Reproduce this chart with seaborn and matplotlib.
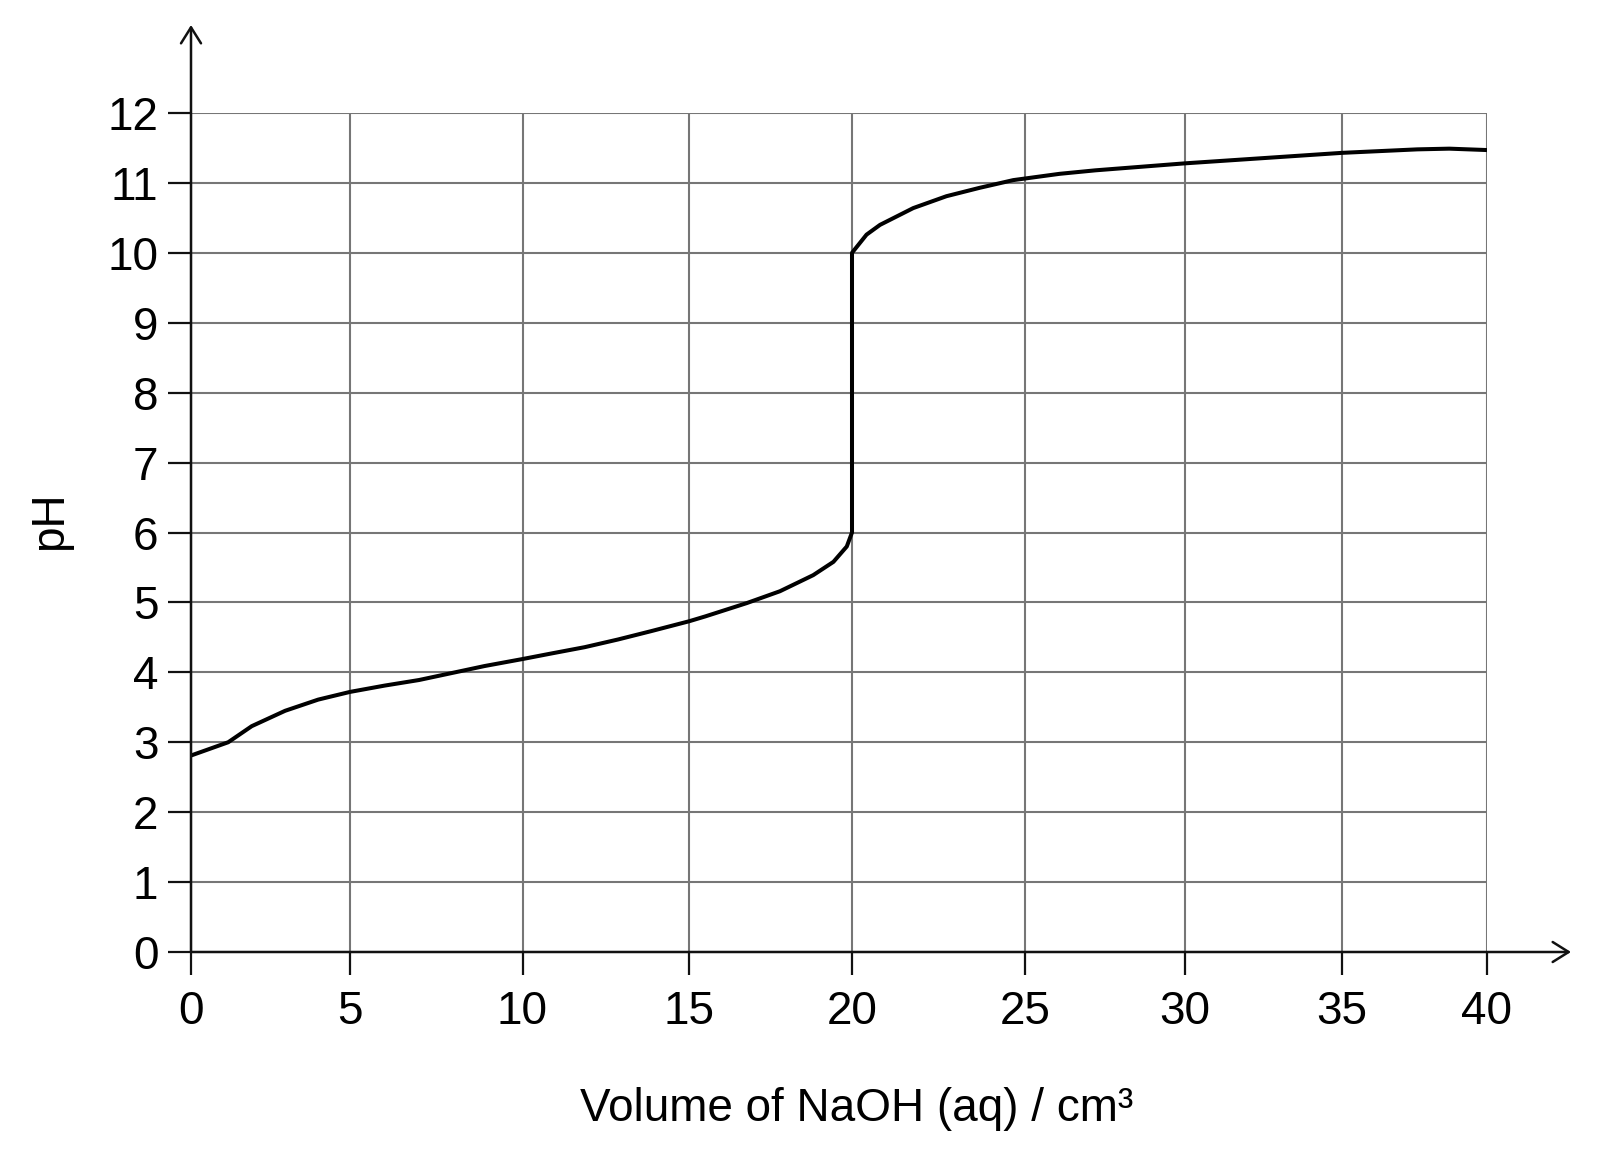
import numpy as np
import pandas as pd
import matplotlib
matplotlib.use("Agg")
import matplotlib.pyplot as plt
import seaborn as sns

# ---- data ----
volume = [0, 1.17, 1.91, 2.96, 4.0, 5.0, 6.0, 7.0, 7.95, 8.9, 10.0, 10.87,
          11.87, 12.87, 13.87, 15.0, 15.5, 16.77, 17.79, 18.81, 19.43, 19.84,
          20.0, 20.0, 20.42, 20.81, 21.77, 22.73, 23.69, 24.66, 26.08, 27.2,
          30.0, 35.0, 37.6, 38.7, 40.0]
ph = [2.81, 3.0, 3.23, 3.45, 3.61, 3.72, 3.81, 3.89, 3.99, 4.09, 4.19, 4.27,
      4.36, 4.47, 4.59, 4.73, 4.80, 4.99, 5.16, 5.39, 5.58, 5.80,
      6.0, 10.0, 10.26, 10.40, 10.64, 10.81, 10.93, 11.04, 11.13, 11.18,
      11.28, 11.43, 11.48, 11.49, 11.47]
x_ticks = [0, 5, 10, 15, 20, 25, 30, 35, 40]
y_ticks = list(range(0, 13))
x_label = "Volume of NaOH (aq) / cm³"
y_label = "pH"

# drawn grid of the original is slightly uneven: pixel positions of x grid lines
x_grid_px = [191, 350, 522.5, 689, 852, 1025, 1185, 1342, 1487]

sns.set_theme(style="white")
plt.rcParams["font.family"] = ["Liberation Sans", "DejaVu Sans"]

W, H = 1602, 1159
fig = plt.figure(figsize=(W / 100, H / 100), dpi=100)
left, right, top, bottom = 191, 1487, 113, 952
ax = fig.add_axes([left / W, (H - bottom) / H, (right - left) / W, (bottom - top) / H])

tv = np.array(x_ticks, dtype=float)
tp = np.array(x_grid_px, dtype=float)


def fwd(x):
    x = np.asarray(x, dtype=float)
    y = np.interp(x, tv, tp)
    lo = x < tv[0]
    hi = x > tv[-1]
    y = np.where(lo, tp[0] + (x - tv[0]) * (tp[1] - tp[0]) / (tv[1] - tv[0]), y)
    y = np.where(hi, tp[-1] + (x - tv[-1]) * (tp[-1] - tp[-2]) / (tv[-1] - tv[-2]), y)
    return y


def inv(p):
    p = np.asarray(p, dtype=float)
    x = np.interp(p, tp, tv)
    lo = p < tp[0]
    hi = p > tp[-1]
    x = np.where(lo, tv[0] + (p - tp[0]) * (tv[1] - tv[0]) / (tp[1] - tp[0]), x)
    x = np.where(hi, tv[-1] + (p - tp[-1]) * (tv[-1] - tv[-2]) / (tp[-1] - tp[-2]), x)
    return x


ax.set_xscale("function", functions=(fwd, inv))

df = pd.DataFrame({"volume": volume, "ph": ph})
sns.lineplot(data=df, x="volume", y="ph", sort=False, estimator=None,
             color="black", linewidth=2.9, ax=ax, zorder=5)
for ln in ax.get_lines():
    ln.set_solid_joinstyle("round")
    ln.set_solid_capstyle("butt")

ax.set_xlim(0, 40)
ax.set_ylim(0, 12)
ax.set_xticks(x_ticks)
ax.set_xticklabels([str(v) for v in x_ticks])
ax.set_yticks(y_ticks)
ax.set_yticklabels([str(v) for v in y_ticks])
ax.minorticks_off()

ax.grid(True, color="#767676", linewidth=1.5, zorder=1)
ax.set_axisbelow(True)
for s in ax.spines.values():
    s.set_visible(False)

ax.tick_params(axis="both", which="major", direction="out", length=16.5, width=1.6,
               color="#111111", labelsize=33, labelcolor="black")
ax.tick_params(axis="y", pad=7)
ax.tick_params(axis="x", pad=11)
ax.tick_params(left=True, bottom=True)

# axis lines with open arrow heads
arrow_kw = dict(arrowstyle="->,head_length=1.15,head_width=0.72", lw=1.8,
                color="#111111", shrinkA=0, shrinkB=0, mutation_scale=10)
ax.annotate("", xy=(0, (bottom - 25) / (bottom - top)), xytext=(0, 0),
            xycoords="axes fraction", textcoords="axes fraction",
            arrowprops=arrow_kw, annotation_clip=False, zorder=6)
ax.annotate("", xy=((1571 - left) / (right - left), 0), xytext=(0, 0),
            xycoords="axes fraction", textcoords="axes fraction",
            arrowprops=arrow_kw, annotation_clip=False, zorder=6)

ax.set_xlabel(x_label, fontsize=33, color="black")
ax.xaxis.set_label_coords(857 / W, 1 - 1121 / H, transform=fig.transFigure)
ax.xaxis.label.set_va("baseline")

ax.set_ylabel(y_label, fontsize=33, color="black")
ax.yaxis.set_label_coords(50 / W, 1 - 521 / H, transform=fig.transFigure)
ax.yaxis.label.set_va("center")
ax.yaxis.label.set_ha("center")

fig.savefig("out.png", dpi=100, facecolor="white")
